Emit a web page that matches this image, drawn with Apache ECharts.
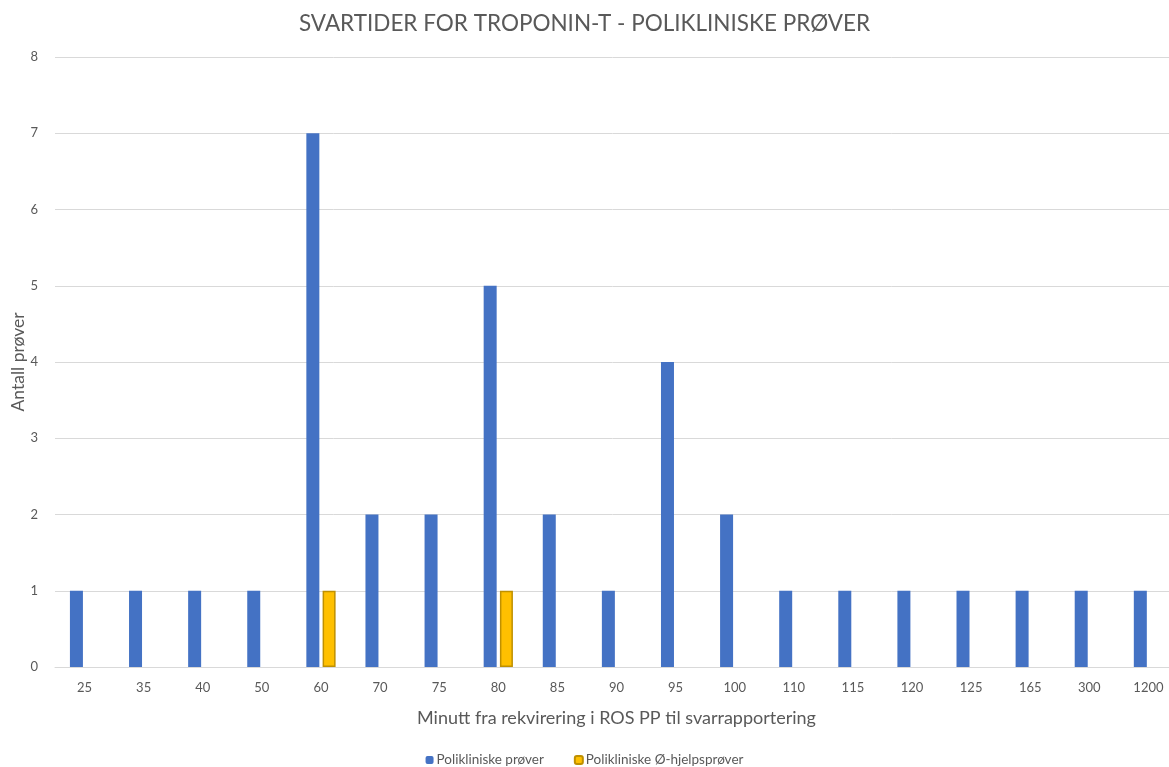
<!DOCTYPE html>
<html>
<head>
<meta charset="utf-8">
<script src="https://cdn.jsdelivr.net/npm/echarts@6/dist/echarts.min.js"></script>
<style>
  html, body { margin: 0; padding: 0; background: #fff; }
  #chart { width: 1169px; height: 767px; }
</style>
</head>
<body>
<div id="chart"></div>
<script>
// Response-time buckets (minutes) and sample counts
const minutes = ['25', '35', '40', '50', '60', '70', '75', '80', '85', '90', '95', '100', '110', '115', '120', '125', '165', '300', '1200'];
const outpatient = [1, 1, 1, 1, 7, 2, 2, 5, 2, 1, 4, 2, 1, 1, 1, 1, 1, 1, 1];
const outpatientUrgent = [null, null, null, null, 1, null, null, 1, null, null, null, null, null, null, null, null, null, null, null];
const yTicks = [0, 1, 2, 3, 4, 5, 6, 7, 8];

const FONT = 'Lato, "Open Sans", sans-serif';
const TEXT = '#595959';

const chart = echarts.init(document.getElementById('chart'), null, { renderer: 'canvas' });
chart.setOption({
  animation: false,
  textStyle: { fontFamily: FONT },
  title: {
    text: 'SVARTIDER FOR TROPONIN-T - POLIKLINISKE PRØVER',
    left: 'center',
    top: 7,
    textStyle: { fontFamily: FONT, fontSize: 22.5, fontWeight: 'normal', color: TEXT }
  },
  legend: {
    bottom: -5,
    left: 'center',
    itemWidth: 8,
    itemHeight: 8,
    itemGap: 30,
    textStyle: { fontFamily: FONT, fontSize: 13.5, color: TEXT, padding: [0, 0, 0, -2] },
    data: ['Polikliniske prøver', 'Polikliniske Ø-hjelpsprøver']
  },
  // vertical axis title, placed beside the tick labels
  graphic: [{
    type: 'text',
    x: 18,
    y: 362,
    rotation: Math.PI / 2,
    style: {
      text: 'Antall prøver',
      fontFamily: FONT,
      fontSize: 17.5,
      fill: TEXT,
      align: 'center',
      verticalAlign: 'middle'
    }
  }],
  grid: { left: 55, right: -9, top: 57, bottom: 100, containLabel: false, outerBoundsMode: 'none' },
  xAxis: {
    type: 'category',
    data: minutes,
    name: 'Minutt fra rekvirering i ROS PP til svarrapportering',
    nameLocation: 'middle',
    nameGap: 42,
    nameTextStyle: { fontFamily: FONT, fontSize: 18, color: TEXT },
    axisLine: { lineStyle: { color: '#d9d9d9', width: 1 } },
    axisTick: { show: false },
    axisLabel: { fontFamily: FONT, fontSize: 13, color: TEXT, margin: 14 }
  },
  yAxis: {
    type: 'value',
    min: yTicks[0],
    max: yTicks[yTicks.length - 1],
    interval: 1,
    axisLine: { show: false },
    axisTick: { show: false },
    axisLabel: { fontFamily: FONT, fontSize: 13, color: TEXT, margin: 17 },
    splitLine: { lineStyle: { color: '#d9d9d9', width: 1 } }
  },
  series: [
    {
      name: 'Polikliniske prøver',
      type: 'bar',
      data: outpatient,
      barWidth: 13,
      barGap: '25%',
      itemStyle: { color: '#4472C4' }
    },
    {
      name: 'Polikliniske Ø-hjelpsprøver',
      type: 'bar',
      data: outpatientUrgent,
      barWidth: 13,
      itemStyle: { color: '#FFC000', borderColor: '#BF9000', borderWidth: 1.5 }
    }
  ]
});
</script>
</body>
</html>
